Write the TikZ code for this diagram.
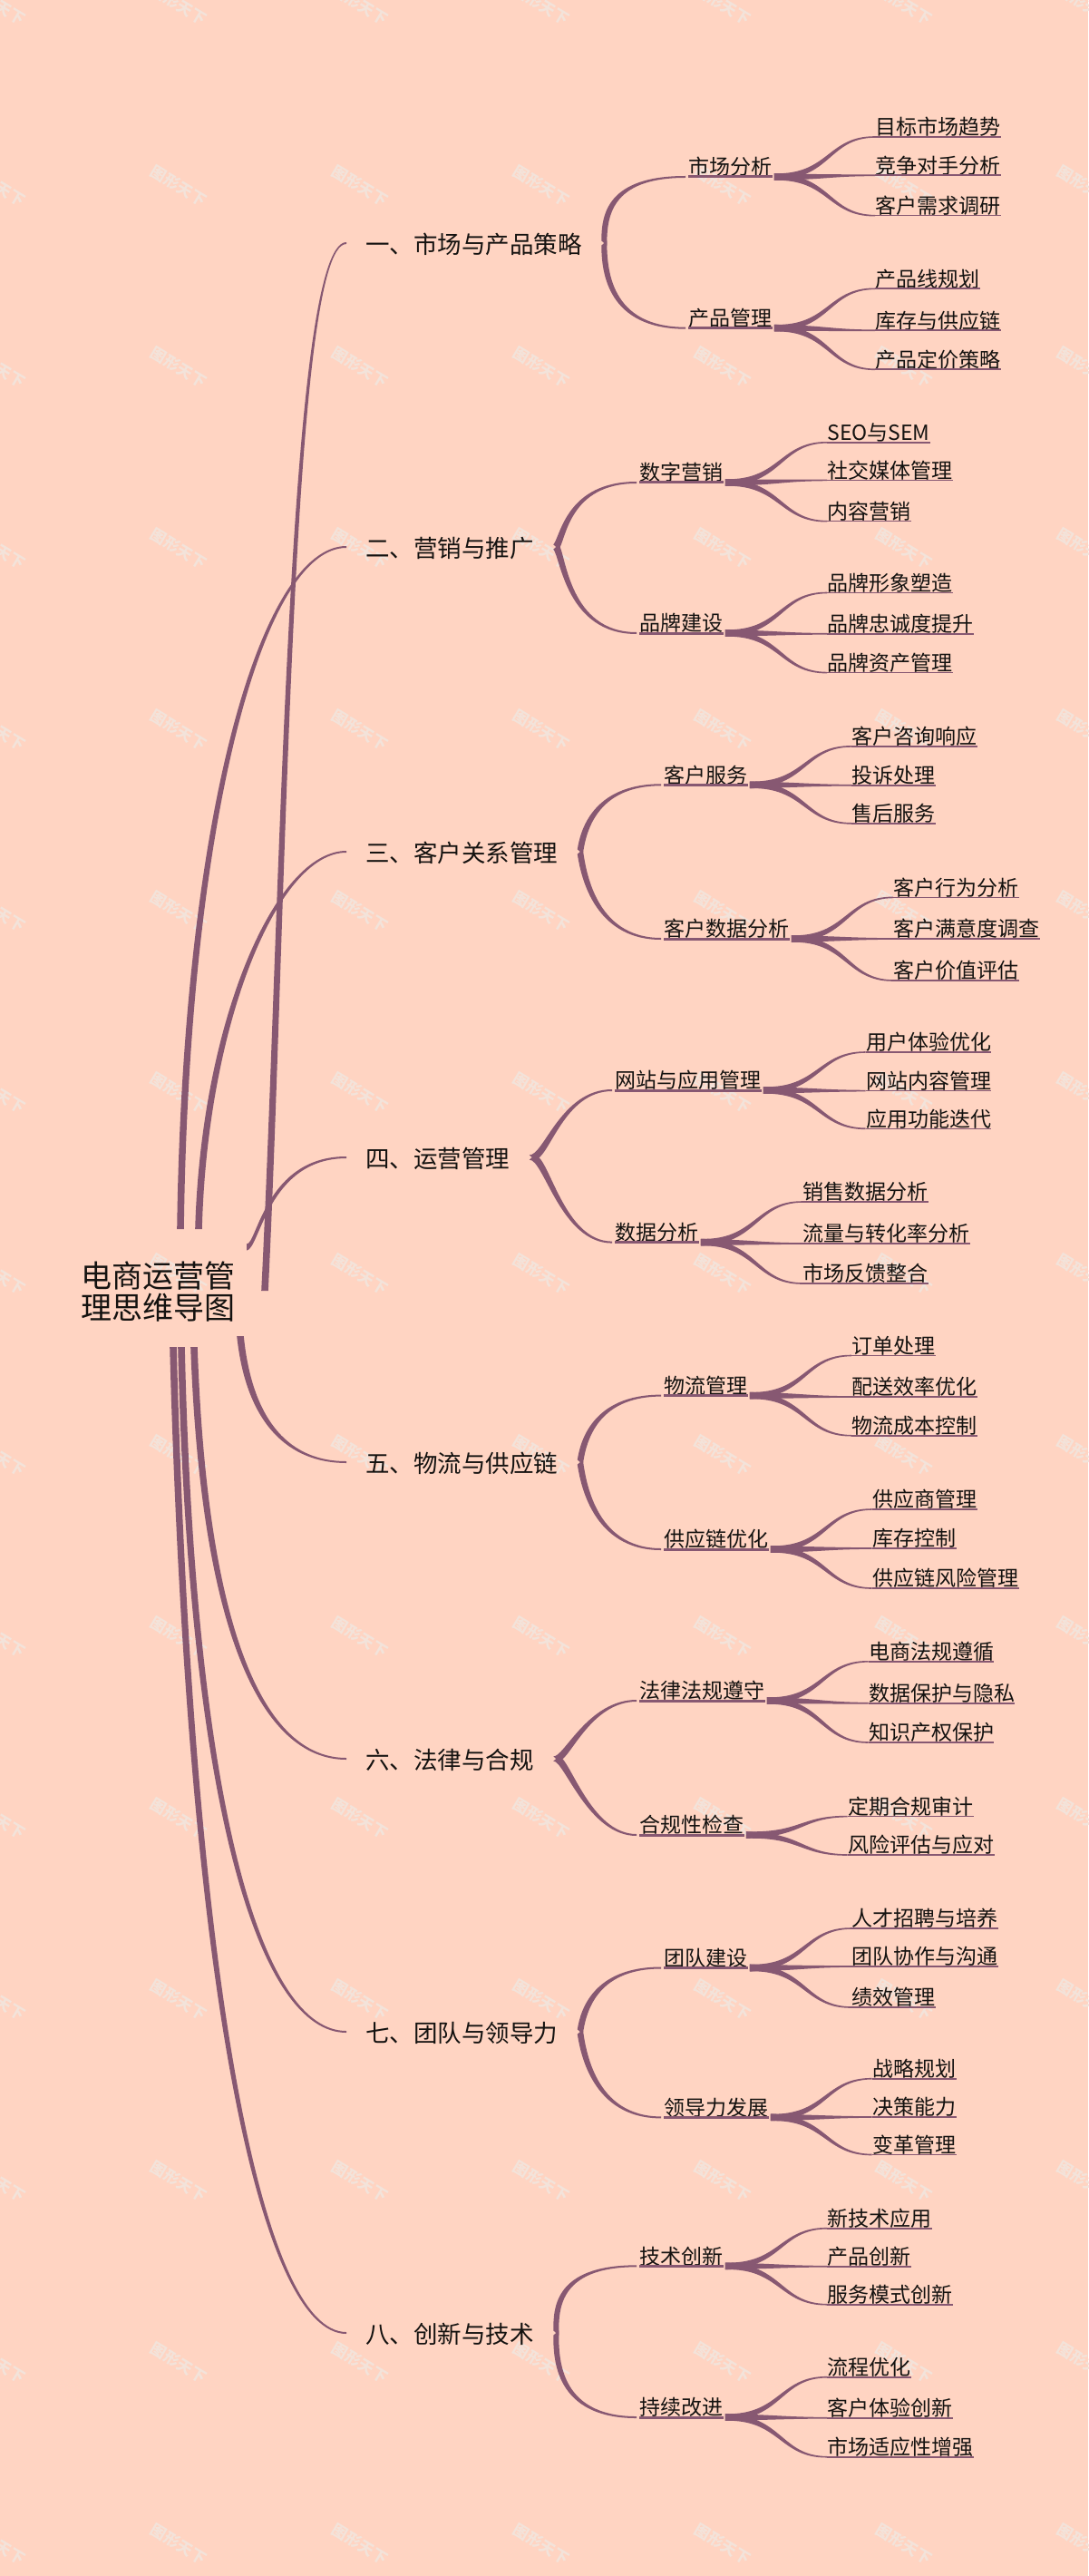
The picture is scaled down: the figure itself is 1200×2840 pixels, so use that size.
\documentclass[tikz,border=0pt]{standalone}
\usepackage{fontspec}
\setmainfont{Noto Sans CJK SC}
\usetikzlibrary{calc}
\definecolor{bgc}{HTML}{FFD4C2}
\definecolor{linkc}{HTML}{875872}
\definecolor{wmc}{HTML}{F3E3DA}
\definecolor{inkc}{HTML}{141210}
\tikzset{
  linkfill/.style={fill=linkc,draw=none},
  rootnode/.style={inner sep=0pt,align=center,text=inkc,font=\fontsize{17pt}{17.5pt}\selectfont},
  topicnode/.style={anchor=west,inner xsep=10.5pt,inner ysep=0pt,text height=11.5pt,text depth=0pt,text=inkc,font=\fontsize{13.25pt}{15pt}\selectfont},
  subnode/.style={anchor=south west,inner sep=0pt,text height=9.5pt,text depth=.9pt,text=inkc,font=\fontsize{11.5pt}{13pt}\selectfont},
  leafnode/.style={anchor=south west,inner sep=0pt,text height=9.5pt,text depth=.9pt,text=inkc,font=\fontsize{11.5pt}{13pt}\selectfont},
  subline/.style={draw=linkc,line width=1.5pt},
  leafline/.style={draw=linkc,line width=.8pt},
  wmnode/.style={rotate=-31,text=wmc,inner sep=0pt,font=\bfseries\fontsize{8.5pt}{9pt}\selectfont}
}
% tapered connector: from, to, ctrl1 rel. from, ctrl2 rel. to, half widths at from, ctrl1, ctrl2, to
\newcommand\flare[8]{\fill[linkfill] ($(#1)+(#5)$) .. controls ($(#1)+(#3)+(#6)$) and ($(#2)+(#4)+(#7)$) .. ($(#2)+(#8)$) -- ($(#2)-(#8)$) .. controls ($(#2)+(#4)-(#7)$) and ($(#1)+(#3)-(#6)$) .. ($(#1)-(#5)$) -- cycle;}
% main branches
\newcommand\mainup[4]{\flare{#1}{#2}{#3}{#4}{-3.8,0}{-3.5,0}{-1.9,-.8}{0,-1}}
\newcommand\maindown[4]{\flare{#1}{#2}{#3}{#4}{-3.8,0}{-3.5,0}{-1.9,.8}{0,1}}
% topic -> sub: topic, sub a, sub b, d, dy, e
\newcommand\forkpair[6]{%
  \coordinate (#1fk) at ($(#1.east)+(3,0)$);
  \flare{#1fk}{#2in}{#4,-#5}{-#6,0}{-3,-2.6}{-3,-2}{-1.4,-1}{0,-1}%
  \flare{#1fk}{#3in}{#4,#5}{-#6,0}{-3,2.6}{-3,2}{-1.4,1}{0,1}%
}
\newcommand\subnd[4]{\node[subnode] (#1) at (#2,#3) {#4};
  \draw[subline] (#1.south west) -- (#1.south east);
  \coordinate (#1in) at ($(#1.south west)+(-3,0)$);
  \coordinate (#1out) at ($(#1.south east)+(2,0)$);}
\newcommand\leafnd[4]{\node[leafnode] (#1) at (#2,#3) {#4};
  \draw[leafline] (#1.south west) -- (#1.south east);}
\newcommand\flup[2]{\flare{#1out}{#2.south west}{62,0}{-52,0}{0,-3.8}{-1.6,-2.2}{-.9,-1}{0,-.8}}
\newcommand\flmid[2]{\flare{#1out}{#2.south west}{62,0}{-52,0}{0,-3.8}{0,-2.6}{0,-1.2}{0,-.8}}
\newcommand\fldown[2]{\flare{#1out}{#2.south west}{62,0}{-52,0}{0,3.8}{-1.6,2.2}{-.9,1}{0,.8}}
% three leaves
\newcommand\three[9]{\leafnd{#1a}{#2}{#3}{#4}\leafnd{#1b}{#2}{#5}{#6}\leafnd{#1c}{#2}{#7}{#8}
  \flup{#9}{#1a}\flmid{#9}{#1b}\fldown{#9}{#1c}}
\begin{document}
\begin{tikzpicture}[x=.5pt,y=-.5pt]
\useasboundingbox (0,0) rectangle (1200,2840);
\clip (0,0) rectangle (1200,2840);
\fill[bgc] (0,0) rectangle (1200,2840);
\foreach \i in {0,...,6}{\foreach \j in {0,...,14}{
  \node[wmnode] (wm\i x\j) at ({-3+200*\i},{5+200*\j}) {图形天下};
}}
\node[rootnode] (root) at (174,1424) {电商运营管\\理思维导图};
\coordinate (r1) at (292,1423);
\coordinate (r2) at (199,1355);
\coordinate (r3) at (219,1355);
\coordinate (r4) at (272,1375);
\coordinate (r5) at (265,1473);
\coordinate (r6) at (214,1485);
\coordinate (r7) at (200,1485);
\coordinate (r8) at (191,1485);
\node[topicnode] (t1) at (382,268) {一、市场与产品策略};
\node[topicnode] (t2) at (382,603) {二、营销与推广};
\node[topicnode] (t3) at (382,939) {三、客户关系管理};
\node[topicnode] (t4) at (382,1276) {四、运营管理};
\node[topicnode] (t5) at (382,1612) {五、物流与供应链};
\node[topicnode] (t6) at (382,1939) {六、法律与合规};
\node[topicnode] (t7) at (382,2240) {七、团队与领导力};
\node[topicnode] (t8) at (382,2572) {八、创新与技术};
\mainup{r1}{t1.west}{21,-423}{-63,0}
\mainup{r2}{t2.west}{6,-455}{-93,0}
\mainup{r3}{t3.west}{6,-225}{-78,0}
\flare{r4}{t4.west}{13,0}{-88,0}{0,-3.6}{-1.6,-2.6}{-1.2,-1.2}{0,-1}
\maindown{r5}{t5.west}{10,97}{-62,0}
\maindown{r6}{t6.west}{11,315}{-92,0}
\maindown{r7}{t7.west}{12,515}{-93,0}
\maindown{r8}{t8.west}{19,715}{-93,0}
% --- group 1
\subnd{a1}{759}{195}{市场分析}
\subnd{a2}{759}{361.7}{产品管理}
\forkpair{t1}{a1}{a2}{0}{30}{85}
\three{a1x}{965}{151}{目标市场趋势}{193.3}{竞争对手分析}{237.7}{客户需求调研}{a1}
\three{a2x}{965}{318.3}{产品线规划}{364.3}{库存与供应链}{407.3}{产品定价策略}{a2}
% --- group 2
\subnd{b1}{705}{532}{数字营销}
\subnd{b2}{705}{698}{品牌建设}
\forkpair{t2}{b1}{b2}{8}{10}{76}
\three{b1x}{912}{487.8}{SEO与SEM}{529.4}{社交媒体管理}{574.7}{内容营销}{b1}
\three{b2x}{912}{653.5}{品牌形象塑造}{698.8}{品牌忠诚度提升}{741.6}{品牌资产管理}{b2}
% --- group 3
\subnd{c1}{732}{865.3}{客户服务}
\subnd{c2}{732}{1035}{客户数据分析}
\forkpair{t3}{c1}{c2}{3}{20}{75}
\three{c1x}{938.8}{822.9}{客户咨询响应}{865.7}{投诉处理}{907.8}{售后服务}{c1}
\three{c2x}{985}{989.4}{客户行为分析}{1035}{客户满意度调查}{1081}{客户价值评估}{c2}
% --- group 4
\subnd{d1}{678}{1202}{网站与应用管理}
\subnd{d2}{678}{1369.6}{数据分析}
\forkpair{t4}{d1}{d2}{16}{0}{55}
\three{d1x}{954.6}{1160}{用户体验优化}{1202.6}{网站内容管理}{1244.3}{应用功能迭代}{d1}
\three{d2x}{885}{1325}{销售数据分析}{1371}{流量与转化率分析}{1415}{市场反馈整合}{d2}
% --- group 5
\subnd{e1}{732}{1538.6}{物流管理}
\subnd{e2}{732}{1708}{供应链优化}
\forkpair{t5}{e1}{e2}{3}{20}{75}
\three{e1x}{938.8}{1494.5}{订单处理}{1540}{配送效率优化}{1582.7}{物流成本控制}{e1}
\three{e2x}{961.7}{1664}{供应商管理}{1707}{库存控制}{1751}{供应链风险管理}{e2}
% --- group 6
\subnd{f1}{705}{1875}{法律法规遵守}
\subnd{f2}{705}{2023}{合规性检查}
\forkpair{t6}{f1}{f2}{12}{0}{52}
\three{f1x}{957.6}{1831.8}{电商法规遵循}{1877.7}{数据保护与隐私}{1921}{知识产权保护}{f1}
\leafnd{f2xa}{934.7}{2002.6}{定期合规审计}
\leafnd{f2xb}{934.7}{2045}{风险评估与应对}
\flup{f2}{f2xa}
\fldown{f2}{f2xb}
% --- group 7
\subnd{g1}{732}{2169.5}{团队建设}
\subnd{g2}{732}{2334.4}{领导力发展}
\forkpair{t7}{g1}{g2}{3}{20}{75}
\three{g1x}{938.8}{2126}{人才招聘与培养}{2168}{团队协作与沟通}{2213}{绩效管理}{g1}
\three{g2x}{961.7}{2291.7}{战略规划}{2334}{决策能力}{2375.5}{变革管理}{g2}
% --- group 8
\subnd{h1}{705}{2498.3}{技术创新}
\subnd{h2}{705}{2665}{持续改进}
\forkpair{t8}{h1}{h2}{0}{25}{90}
\three{h1x}{912}{2456.7}{新技术应用}{2498.7}{产品创新}{2540.7}{服务模式创新}{h1}
\three{h2x}{912}{2620.7}{流程优化}{2665.7}{客户体验创新}{2708.7}{市场适应性增强}{h2}
\end{tikzpicture}
\end{document}
